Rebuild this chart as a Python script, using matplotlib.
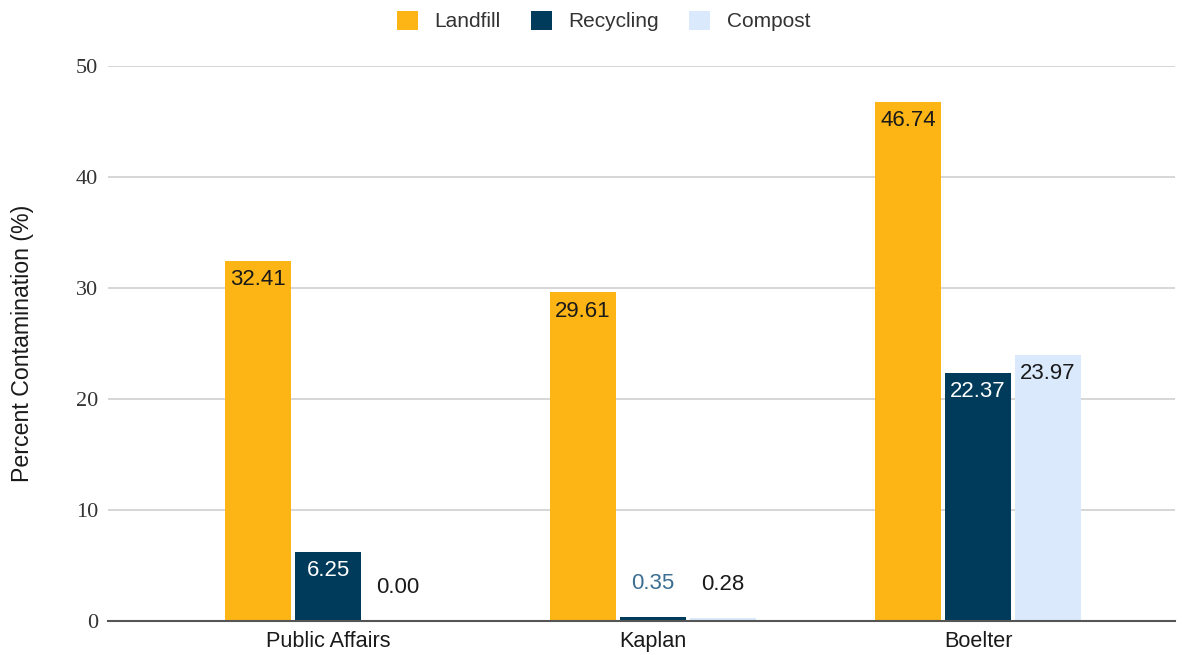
import numpy as np
import matplotlib.pyplot as plt

# data
buildings = ['Public Affairs', 'Kaplan', 'Boelter']
landfill = [32.41, 29.61, 46.74]
recycling = [6.25, 0.35, 22.37]
compost = [0.00, 0.28, 23.97]

series = [('Landfill', landfill, '#FDB515'),
          ('Recycling', recycling, '#003B5C'),
          ('Compost', compost, '#DAEAFC')]

plt.rcParams['font.family'] = ['Liberation Sans', 'DejaVu Sans']

fig = plt.figure(figsize=(11.91, 6.55), dpi=100)
ax = fig.add_axes([108/1191, 1 - 621/655, (1175 - 108)/1191, (621 - 66)/655])

x = np.arange(len(buildings))
w = 0.203
step = 0.215

for i, (name, vals, col) in enumerate(series):
    pos = x + (i - 1) * step
    bars = ax.bar(pos, vals, w, color=col, label=name, zorder=3)
    for b, v in zip(bars, vals):
        cx = b.get_x() + b.get_width() / 2
        if v > 3:
            tc = 'white' if name == 'Recycling' else '#1a1a1a'
            ax.annotate(f'{v:.2f}', (cx, v), xytext=(0, -13.5), textcoords='offset points',
                        ha='center', va='center', fontsize=16, color=tc, zorder=4)
        else:
            tc = '#3C6E91' if name == 'Recycling' else '#1a1a1a'
            ax.annotate(f'{v:.2f}', (cx, v), xytext=(0, 24), textcoords='offset points',
                        ha='center', va='center', fontsize=16, color=tc, zorder=4)

ax.set_xlim(-0.677, 2.606)
ax.set_ylim(0, 50)
ax.set_yticks([0, 10, 20, 30, 40, 50])
ax.set_xticks(x)
ax.set_xticklabels(buildings, fontsize=15.6, color='#1a1a1a')
for t in ax.get_yticklabels():
    t.set_fontfamily('Liberation Serif')
    t.set_fontsize(16)
    t.set_color('#333333')
ax.tick_params(axis='both', length=0)
ax.tick_params(axis='y', pad=7)
ax.tick_params(axis='x', pad=7)
ax.grid(axis='y', color='#d0d0d0', lw=1.2, zorder=0)
for s in ['top', 'right', 'left']:
    ax.spines[s].set_visible(False)
ax.spines['bottom'].set_color('#555555')
ax.spines['bottom'].set_linewidth(1.5)
ax.spines['bottom'].set_zorder(5)
ax.set_ylabel('Percent Contamination (%)', fontsize=16.7, color='#1a1a1a', labelpad=30)

fig.legend(loc='upper center', bbox_to_anchor=(0.507, 1.012), ncol=3, frameon=False,
           fontsize=15, handlelength=1.0, handleheight=1.0, handletextpad=0.8,
           columnspacing=1.45, labelcolor='#333333')

plt.savefig('out.png', dpi=100)
